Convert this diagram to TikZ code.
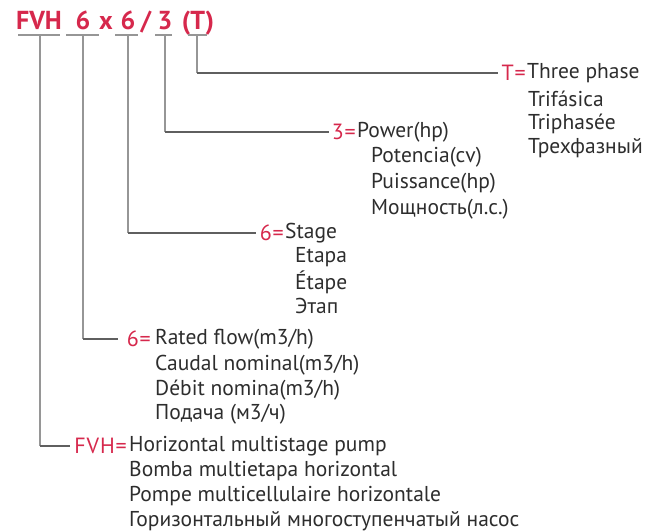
\documentclass[tikz,border=0pt]{standalone}
\usepackage{fontspec}
\setmainfont{PT Sans}
\definecolor{accent}{RGB}{214,40,76}
\definecolor{txt}{RGB}{45,45,45}
\definecolor{vline}{RGB}{150,150,150}
\definecolor{hline}{RGB}{95,95,95}
\begin{document}
\begin{tikzpicture}[x=1pt,y=-1pt,
  lbl/.style={anchor=west,inner sep=0pt,text=txt,font=\fontsize{21.5}{23}\selectfont},
  pre/.style={anchor=east,inner sep=0pt,text=accent,font=\fontsize{22}{23}\selectfont\addfontfeatures{LetterSpace=4}},
  ttl/.style={anchor=base,inner sep=0pt,text=accent,font=\fontsize{26}{28}\selectfont\bfseries},
  uline/.style={draw=vline,line width=1.3pt},
  vconn/.style={draw=vline,line width=1.3pt},
  hconn/.style={draw=hline,line width=1.1pt}]
\useasboundingbox (0,0) rectangle (645,532);
% title parts
\node[ttl] (tF) at (39,30) {FVH};
\node[ttl] (t6a) at (83,30) {6};
\node[ttl] (tx) at (106,30) {x};
\node[ttl] (t6b) at (128,30) {6};
\node[ttl] (ts) at (146,30) {/};
\node[ttl] (t3) at (165,30) {3};
\node[ttl] (tT) at (198,30) {(T)};
% underline segments
\coordinate (uF) at (40,35);
\coordinate (u6a) at (83,35);
\coordinate (u6b) at (128,35);
\coordinate (u3) at (165,35);
\coordinate (uT) at (197,35);
\draw[uline] (18,35) -- (60,35);
\draw[uline] (66,35) -- (99,35);
\draw[uline] (115,35) -- (138,35);
\draw[uline] (155,35) -- (172,35);
\draw[uline] (188,35) -- (207,35);
% T group
\node[lbl] (kT) at (527,73) {Three phase};
\node[pre] (pT) at ([xshift=-1pt]kT.west) {T=};
\node[lbl] (kT2) at (528,99) {Trifásica};
\node[lbl] (kT3) at (528,124) {Triphasée};
\node[lbl] (kT4) at (528,148) {Трехфазный};
% 3 group
\node[lbl] (k3) at (357,132) {Power(hp)};
\node[pre] (p3) at ([xshift=-1pt]k3.west) {3=};
\node[lbl] (k32) at (371,157) {Potencia(cv)};
\node[lbl] (k33) at (371,183) {Puissance(hp)};
\node[lbl] (k34) at (371,209) {Мощность(л.с.)};
% stage group
\node[lbl] (kS) at (285,233) {Stage};
\node[pre] (pS) at ([xshift=-1pt]kS.west) {6=};
\node[lbl] (kS2) at (295,257) {Etapa};
\node[lbl] (kS3) at (295,282) {Étape};
\node[lbl] (kS4) at (295,306) {Этап};
% flow group
\node[lbl] (kF) at (155,339) {Rated flow(m3/h)};
\node[pre] (pF) at ([xshift=-4pt]kF.west) {6=};
\node[lbl] (kF2) at (155,365) {Caudal nominal(m3/h)};
\node[lbl] (kF3) at (155,390) {Débit nomina(m3/h)};
\node[lbl] (kF4) at (155,414) {Подача (м3/ч)};
% FVH group
\node[lbl] (kV) at (129,446) {Horizontal multistage pump};
\node[pre] (pV) at ([xshift=-2pt]kV.west) {FVH=};
\node[lbl] (kV2) at (129,471) {Bomba multietapa horizontal};
\node[lbl] (kV3) at (129,496) {Pompe multicellulaire horizontale};
\node[lbl] (kV4) at (129,521) {Горизонтальный многоступенчатый насос};
% connectors
\coordinate (eT) at ([xshift=-3pt]pT.west);
\coordinate (e3) at ([xshift=-3pt]p3.west);
\coordinate (eS) at ([xshift=-4pt]pS.west);
\coordinate (eF) at ([xshift=-9pt]pF.west);
\coordinate (eV) at ([xshift=-4pt]pV.west);
\draw[vconn] (uT) -- (uT |- eT);
\draw[hconn] (uT |- eT) -- (eT);
\draw[vconn] (u3) -- (u3 |- e3);
\draw[hconn] (u3 |- e3) -- (e3);
\draw[vconn] (u6b) -- (u6b |- eS);
\draw[hconn] (u6b |- eS) -- (eS);
\draw[vconn] (u6a) -- (u6a |- eF);
\draw[hconn] (u6a |- eF) -- (eF);
\draw[vconn] (uF) -- (uF |- eV);
\draw[hconn] (uF |- eV) -- (eV);
\end{tikzpicture}
\end{document}
